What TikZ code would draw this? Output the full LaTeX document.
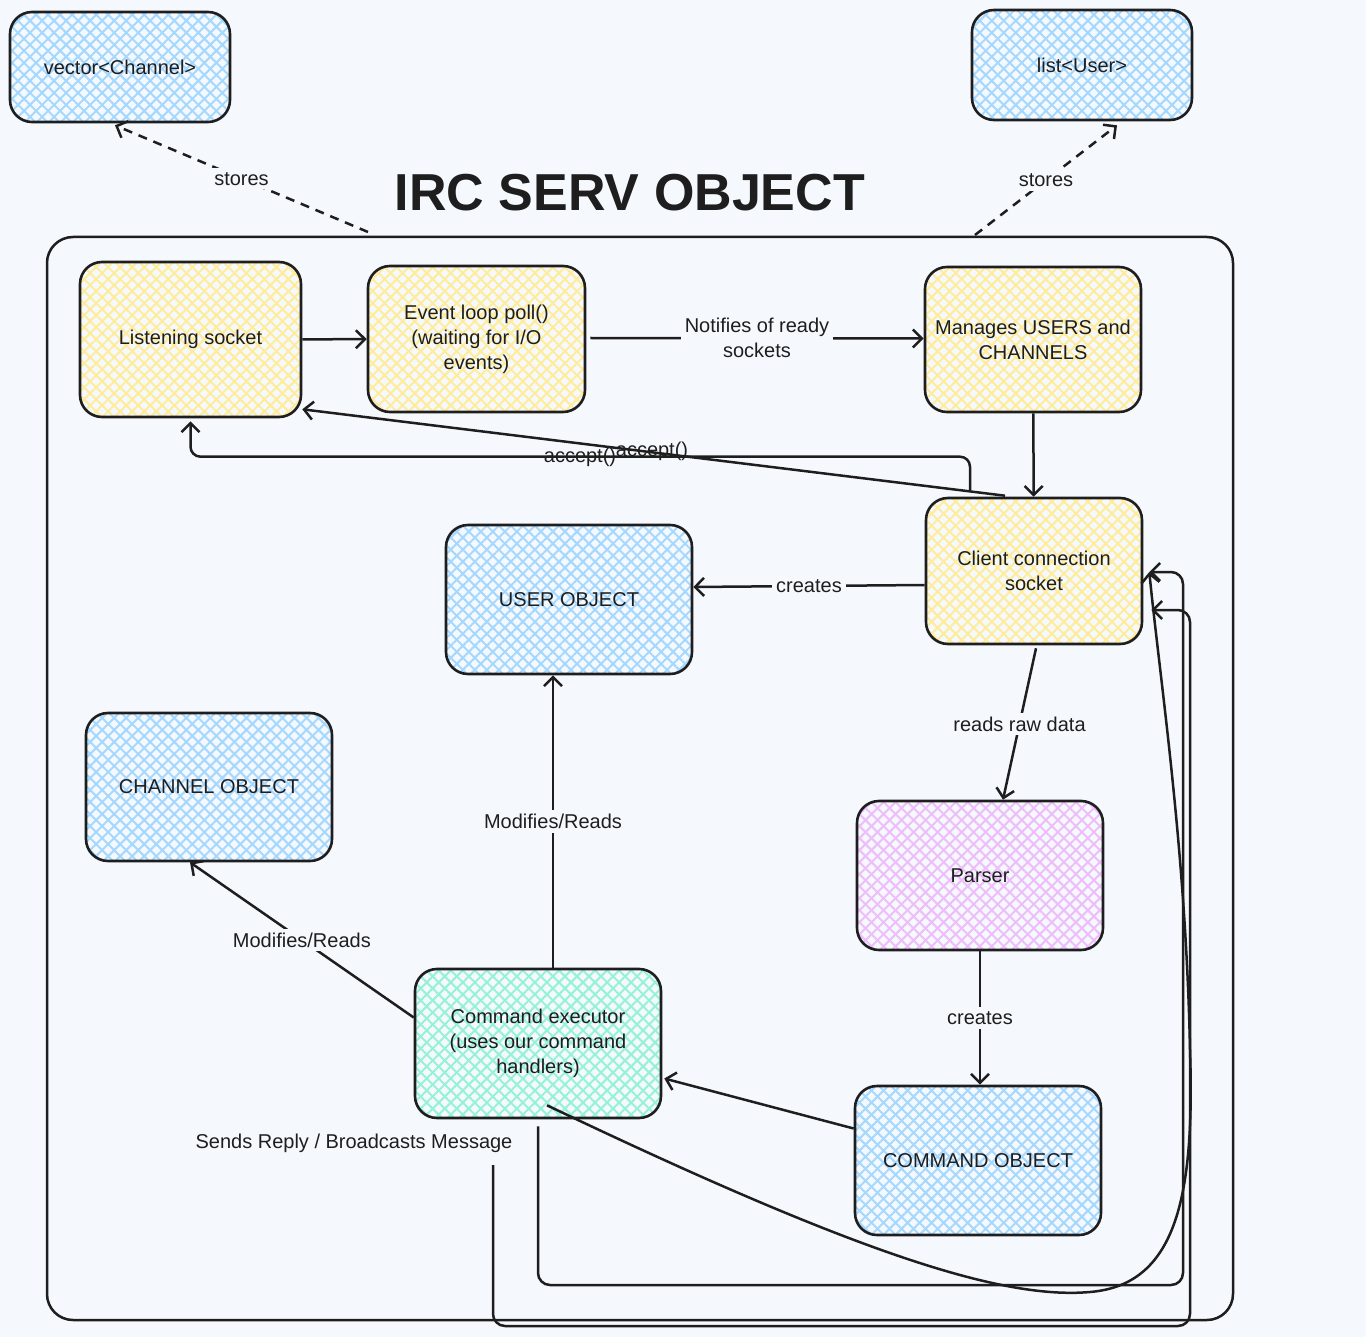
\documentclass[tikz,border=0pt]{standalone}
\usepackage{fontspec}
\setmainfont{Liberation Sans}
\usetikzlibrary{arrows.meta,patterns.meta,calc}
\definecolor{bgc}{HTML}{F5F9FE}
\definecolor{ink}{HTML}{1E1E1E}
\definecolor{hblue}{HTML}{A5D8FF}
\definecolor{hyel}{HTML}{FFEC99}
\definecolor{hpink}{HTML}{EEBEFA}
\definecolor{hgreen}{HTML}{96F2D7}
\tikzset{
  hatchbox/.style={draw=ink, line width=2.6pt, rounded corners=22pt,
    align=center, inner sep=4pt, font=\fontsize{20}{25}\selectfont, text=ink,
    preaction={fill=bgc},
    preaction={pattern={Lines[angle=45,distance=8.5pt,line width=2pt]}, pattern color=#1},
    preaction={pattern={Lines[angle=-45,distance=8.5pt,line width=2pt]}, pattern color=#1}},
  bluebox/.style={hatchbox=hblue},
  yelbox/.style={hatchbox=hyel},
  pinkbox/.style={hatchbox=hpink},
  greenbox/.style={hatchbox=hgreen},
  arr/.style={draw=ink, line width=2.5pt, -{Straight Barb[length=9pt,width=18pt,line width=2.5pt]}},
  dasharr/.style={arr, dash pattern=on 9pt off 7pt},
  lbl/.style={font=\fontsize{20}{25}\selectfont, text=ink, fill=bgc, inner sep=4pt, align=center},
  lblnofill/.style={font=\fontsize{20}{25}\selectfont, text=ink, inner sep=1pt},
}
\begin{document}
\begin{tikzpicture}[x=1pt,y=-1pt]
\useasboundingbox (0,0) rectangle (1366,1337);
\fill[bgc] (0,0) rectangle (1366,1337);

% frame
\node[draw=ink, line width=2.5pt, rounded corners=26pt, minimum width=1186pt, minimum height=1083pt, inner sep=0pt] (srv) at (640,778.5) {};
\node[font=\bfseries\fontsize{52}{56}\selectfont, text=ink] (title) at (630,193) {IRC SERV OBJECT};

% nodes
\node[bluebox, minimum width=220pt, minimum height=110pt] (vc) at (120,67) {vector<Channel>};
\node[bluebox, minimum width=220pt, minimum height=110pt] (lu) at (1082,65) {list<User>};
\node[yelbox, minimum width=221pt, minimum height=155pt] (ls) at (190.5,339.5) {Listening socket};
\node[yelbox, minimum width=217pt, minimum height=146pt] (el) at (476.5,339) {Event loop poll()\\(waiting for I/O\\events)};
\node[yelbox, minimum width=216pt, minimum height=145pt] (mg) at (1033,339.5) {Manages USERS and\\CHANNELS};
\node[yelbox, minimum width=216pt, minimum height=146pt] (cc) at (1034,571) {Client connection\\socket};
\node[bluebox, minimum width=246pt, minimum height=149pt] (uo) at (569,599.5) {USER OBJECT};
\node[bluebox, minimum width=246pt, minimum height=148pt] (ch) at (209,787) {CHANNEL OBJECT};
\node[pinkbox, minimum width=246pt, minimum height=149pt] (pa) at (980,875.5) {Parser};
\node[greenbox, minimum width=246pt, minimum height=149pt] (ex) at (538,1043.5) {Command executor\\(uses our command\\handlers)};
\node[bluebox, minimum width=246pt, minimum height=149pt] (co) at (978,1160.5) {COMMAND OBJECT};

% free ends
\coordinate (s1) at (368,232);
\coordinate (s2) at (975,235);
\coordinate (sr2) at (493,1165);

% stores
\draw[dasharr] (s1) -- node[lbl, pos=0.5] {stores} ([xshift=-5pt,yshift=-2pt]vc.south);
\draw[dasharr] (s2) -- node[lbl, pos=0.5] {stores} ([xshift=35pt,yshift=-4pt]lu.south);

% top row
\draw[arr] (ls) -- (el);
\draw[arr] ([xshift=4pt,yshift=1pt]el.east) -- node[lbl] {Notifies of ready\\sockets} ([yshift=1pt]mg.west);
\draw[arr] (mg) -- (cc);

% accept
\draw[arr] ([xshift=-29pt,yshift=1pt]cc.north) -- ([yshift=9pt]ls.south east);
\draw[arr, rounded corners=10pt] ([xshift=-64pt,yshift=6pt]cc.north) -- ++(0,-34) -| ([yshift=-3pt]ls.south);
\node[lblnofill] (acc1) at (580,457) {accept()};
\node[lblnofill] (acc2) at (652,451) {accept()};

% creates user
\draw[arr] ([yshift=-14pt]cc.west) -- node[lbl] {creates} ([yshift=12.5pt]uo.east);
% reads raw data
\draw[arr] ([xshift=2pt,yshift=-3pt]cc.south) -- node[lbl] {reads raw data} ([xshift=23pt]pa.north);
% parser creates
\draw[arr] (pa.south) -- node[lbl, pos=0.5] {creates} ([xshift=2pt]co.north);
% command object -> executor
\draw[arr] ([yshift=32pt]co.west) -- ([xshift=2pt,yshift=-35pt]ex.east);
% executor -> user
\draw[arr] ([xshift=15pt]ex.north) -- node[lbl] {Modifies/Reads} ([xshift=-16pt]uo.south);
% executor -> channel
\draw[arr] ([yshift=26pt]ex.west) -- node[lbl] {Modifies/Reads} ([xshift=-19pt]ch.south);

% sends reply
\node[lblnofill] (srl) at (354,1143) {Sends Reply / Broadcasts Message};
\draw[arr] ([xshift=9pt,yshift=14pt]ex.south) .. controls (850,1250) and (1000,1300) .. (1090,1292)
   .. controls (1175,1285) and (1195,1200) .. (1190,1050)
   .. controls (1186,850) and (1160,680) .. ([xshift=6pt,yshift=-1pt]cc.east);
\draw[arr, rounded corners=12pt] ([yshift=-7pt]ex.south) |- (1183,1285) |- ([xshift=6pt,yshift=-1pt]cc.east);
\draw[arr, rounded corners=12pt] (sr2) |- (1190,1326) |- ([xshift=8pt,yshift=-39pt]cc.east);
\end{tikzpicture}
\end{document}
